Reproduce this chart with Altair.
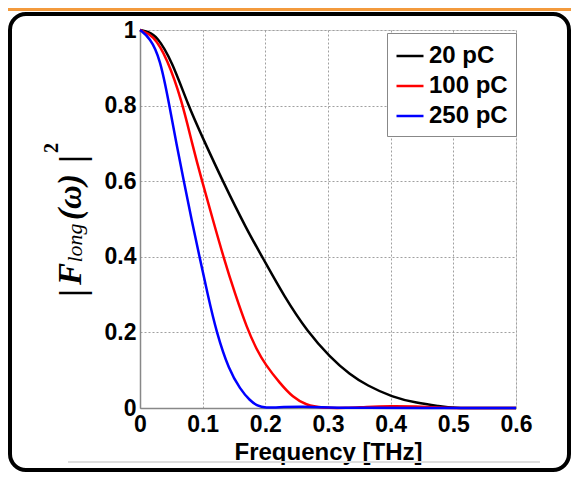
import altair as alt
import pandas as pd

# ---- data ----
series_names = ["20 pC", "100 pC", "250 pC"]
series_colors = ["#000000", "#ff0000", "#0000ff"]

f_20 = [0, 0.013, 0.027, 0.051, 0.077, 0.10, 0.132, 0.171, 0.195, 0.23, 0.268,
        0.303, 0.335, 0.362, 0.402, 0.442, 0.478, 0.50, 0.55, 0.6]
v_20 = [1, 0.995, 0.984, 0.918, 0.80, 0.715, 0.60, 0.47, 0.40, 0.295, 0.20,
        0.135, 0.088, 0.060, 0.029, 0.013, 0.005, 0.0, 0.0, 0.0]

f_100 = [0, 0.021, 0.043, 0.067, 0.083, 0.099, 0.116, 0.133, 0.152, 0.171, 0.186,
         0.200, 0.223, 0.244, 0.265, 0.29, 0.33, 0.36, 0.40, 0.44, 0.48, 0.5, 0.6]
v_100 = [1, 0.987, 0.926, 0.812, 0.70, 0.60, 0.50, 0.40, 0.30, 0.21, 0.155,
         0.115, 0.066, 0.028, 0.008, 0.0, 0.0, 0.003, 0.005, 0.004, 0.001, 0.0, 0.0]

f_250 = [0, 0.016, 0.032, 0.047, 0.058, 0.070, 0.082, 0.095, 0.108, 0.122, 0.142,
         0.160, 0.175, 0.188, 0.198, 0.23, 0.26, 0.29, 0.32, 0.6]
v_250 = [1, 0.979, 0.926, 0.80, 0.70, 0.60, 0.50, 0.40, 0.30, 0.20, 0.10,
         0.05, 0.02, 0.005, 0.0, 0.003, 0.004, 0.002, 0.0, 0.0]

x_ticks = [0, 0.1, 0.2, 0.3, 0.4, 0.5, 0.6]
y_ticks = [0, 0.2, 0.4, 0.6, 0.8, 1]

rows = []
for name, fs, vs in [(series_names[0], f_20, v_20),
                     (series_names[1], f_100, v_100),
                     (series_names[2], f_250, v_250)]:
    for i, (f, v) in enumerate(zip(fs, vs)):
        rows.append({"series": name, "f": f, "v": v, "order": i})
df = pd.DataFrame(rows)
one = pd.DataFrame({"a": [0]})

FONT = "Liberation Sans"
SERIF = "Liberation Serif"

lines = alt.Chart(df).mark_line(strokeWidth=2.5, interpolate="basis").encode(
    x=alt.X("f:Q", scale=alt.Scale(domain=[0, 0.6], nice=False, zero=False),
            axis=alt.Axis(values=x_ticks, format=".1~f", title="Frequency [THz]",
                          labelFontSize=23, labelFont=FONT, labelFontWeight="bold",
                          labelColor="#000", labelPadding=5, labelFlush=False,
                          ticks=False, grid=True, gridColor="#a0a0a0", gridDash=[2, 2],
                          gridWidth=1, domainColor="#888", domainWidth=1.5,
                          titleFontSize=24, titleFont=FONT, titleFontWeight="bold",
                          titleColor="#000", titleY=51, titleBaseline="alphabetic")),
    y=alt.Y("v:Q", scale=alt.Scale(domain=[0, 1], nice=False),
            axis=alt.Axis(values=y_ticks, format=".1~f", title=None,
                          labelFontSize=23, labelFont=FONT, labelFontWeight="bold",
                          labelColor="#000", labelPadding=4, labelFlush=False,
                          labelBaseline="middle",
                          ticks=False, grid=True, gridColor="#a0a0a0", gridDash=[2, 2],
                          gridWidth=1, domainColor="#888", domainWidth=1.5)),
    color=alt.Color("series:N",
                    scale=alt.Scale(domain=series_names, range=series_colors),
                    legend=alt.Legend(orient="none", legendX=247, legendY=3, title=None,
                                      symbolType="stroke", symbolSize=729,
                                      symbolStrokeWidth=2.5, labelFontSize=24,
                                      labelFont=FONT, labelFontWeight="bold",
                                      labelColor="#000", strokeColor="#888",
                                      fillColor="white", padding=8, rowPadding=3,
                                      labelOffset=4)),
    order="order:Q",
)

def txt(s, x, y, size, style="normal", weight="normal", font=SERIF):
    return alt.Chart(one).mark_text(angle=270, align="center", baseline="middle",
                                    font=font, fontSize=size, fontStyle=style,
                                    fontWeight=weight, color="#000").encode(
        x=alt.value(x), y=alt.value(y), text=alt.value(s))

title_parts = [
    txt("|", -67, 263, 36, weight="bold"),
    txt("F", -69, 244, 33, style="italic", weight="bold"),
    txt("long", -65, 213, 22, style="italic"),
    txt("(ω)", -69, 167, 33, style="italic", weight="bold"),
    txt("|", -67, 129, 36, weight="bold"),
    txt("2", -88, 118, 20, weight="bold"),
]

orange = alt.Chart(one).mark_rect(color="#f39a3c").encode(
    x=alt.value(-132), x2=alt.value(431), y=alt.value(-22), y2=alt.value(-19))
border = alt.Chart(one).mark_rect(fillOpacity=0, stroke="#000", strokeWidth=4,
                                  cornerRadius=16).encode(
    x=alt.value(-130), x2=alt.value(429), y=alt.value(-16), y2=alt.value(440))
shadow = alt.Chart(one).mark_rule(color="#dddddd", strokeWidth=2).encode(
    x=alt.value(-72), x2=alt.value(400), y=alt.value(432))

chart = alt.layer(orange, border, shadow, lines, *title_parts).properties(
    width=376, height=378,
    padding={"left": 132, "top": 22, "right": 55, "bottom": 65},
    autosize=alt.AutoSizeParams(type="none"),
).configure_view(stroke="#888", strokeWidth=1.5).configure(background="white")

chart.save("out.html", embed_options={"renderer": "svg", "actions": False})
